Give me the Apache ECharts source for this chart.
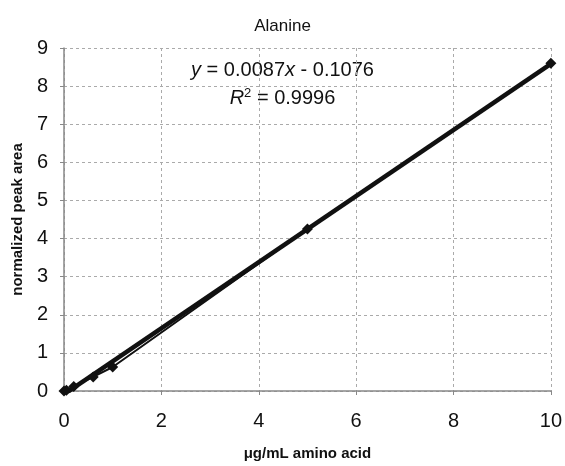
<!DOCTYPE html>
<html>
<head>
<meta charset="utf-8">
<script src="https://cdn.jsdelivr.net/npm/echarts@6/dist/echarts.min.js"></script>
<style>
  html, body { margin: 0; padding: 0; background: #fff; }
  #chart { width: 565px; height: 466px; }
</style>
</head>
<body>
<div id="chart"></div>
<script>
// concentrations (ug/mL) and normalized peak areas
const concentration = [0, 0.05, 0.2, 0.6, 1, 5, 10];
const peakArea = [0, 0.02, 0.12, 0.37, 0.63, 4.25, 8.6];
const xTicks = [0, 2, 4, 6, 8, 10];
const yTicks = [0, 1, 2, 3, 4, 5, 6, 7, 8, 9];

window.onload = function () {
    let points = concentration.map((c, i) => [c, peakArea[i]]);

    // least squares trendline through the measured points
    let n = points.length;
    let sx = 0, sy = 0, sxx = 0, sxy = 0;
    points.forEach(p => { sx += p[0]; sy += p[1]; sxx += p[0] * p[0]; sxy += p[0] * p[1]; });
    let slope = (n * sxy - sx * sy) / (n * sxx - sx * sx);
    let icpt = (sy - slope * sx) / n;
    let xMin = concentration[0], xMax = concentration[n - 1];
    let trend = [[xMin, slope * xMin + icpt], [xMax, slope * xMax + icpt]];

    let font = 'Liberation Sans, Arial, sans-serif';
    let chart = echarts.init(document.getElementById('chart'));
    let option = {
        animation: false,
        title: {
            text: 'Alanine',
            left: 'center',
            top: 13,
            textStyle: { fontFamily: font, fontSize: 17, fontWeight: 'normal', color: '#111' }
        },
        grid: { left: 64, right: 14, top: 48, bottom: 72 },
        xAxis: {
            type: 'value',
            min: xTicks[0],
            max: xTicks[xTicks.length - 1],
            interval: xTicks[1] - xTicks[0],
            name: 'μg/mL amino acid',
            nameLocation: 'middle',
            nameGap: 55,
            nameTextStyle: { fontFamily: font, fontSize: 15, fontWeight: 'bold', color: '#111' },
            axisLine: { lineStyle: { color: '#888', width: 1.5 } },
            axisTick: { show: true, length: 4, lineStyle: { color: '#888' } },
            axisLabel: { fontFamily: font, fontSize: 20, color: '#111', margin: 20 },
            splitLine: { show: true, lineStyle: { color: '#aaa', type: [3, 3], width: 1 } }
        },
        yAxis: {
            type: 'value',
            min: yTicks[0],
            max: yTicks[yTicks.length - 1],
            interval: yTicks[1] - yTicks[0],
            name: 'normalized peak area',
            nameLocation: 'middle',
            nameGap: 39,
            nameTextStyle: { fontFamily: font, fontSize: 15, fontWeight: 'bold', color: '#111' },
            axisLine: { show: true, lineStyle: { color: '#888', width: 1.5 } },
            axisTick: { show: true, length: 4, lineStyle: { color: '#888' } },
            axisLabel: { fontFamily: font, fontSize: 20, color: '#111', margin: 16 },
            splitLine: { show: true, lineStyle: { color: '#aaa', type: [3, 3], width: 1 } }
        },
        series: [
            {
                name: 'data',
                type: 'line',
                data: points,
                symbol: 'diamond',
                symbolSize: 11,
                itemStyle: { color: '#111' },
                lineStyle: { color: '#111', width: 2 },
                z: 3
            },
            {
                name: 'trend',
                type: 'line',
                data: trend,
                symbol: 'none',
                lineStyle: { color: '#111', width: 4.5 },
                z: 2
            }
        ],
        graphic: [
            {
                type: 'text',
                left: 'center',
                top: 60,
                style: {
                    text: '{i|y} = 0.0087{i|x} - 0.1076',
                    fontFamily: font,
                    fontSize: 20,
                    fill: '#111',
                    rich: { i: { fontStyle: 'italic', fontFamily: font, fontSize: 20 } }
                }
            },
            {
                type: 'text',
                left: 'center',
                top: 87,
                style: {
                    text: '{i|R}{s|2} = 0.9996',
                    fontFamily: font,
                    fontSize: 20,
                    fill: '#111',
                    rich: {
                        i: { fontStyle: 'italic', fontFamily: font, fontSize: 20 },
                        s: { fontFamily: font, fontSize: 13, verticalAlign: 'top', padding: [0, 0, 9, 0] }
                    }
                }
            }
        ]
    };
    chart.setOption(option);
};
</script>
</body>
</html>
